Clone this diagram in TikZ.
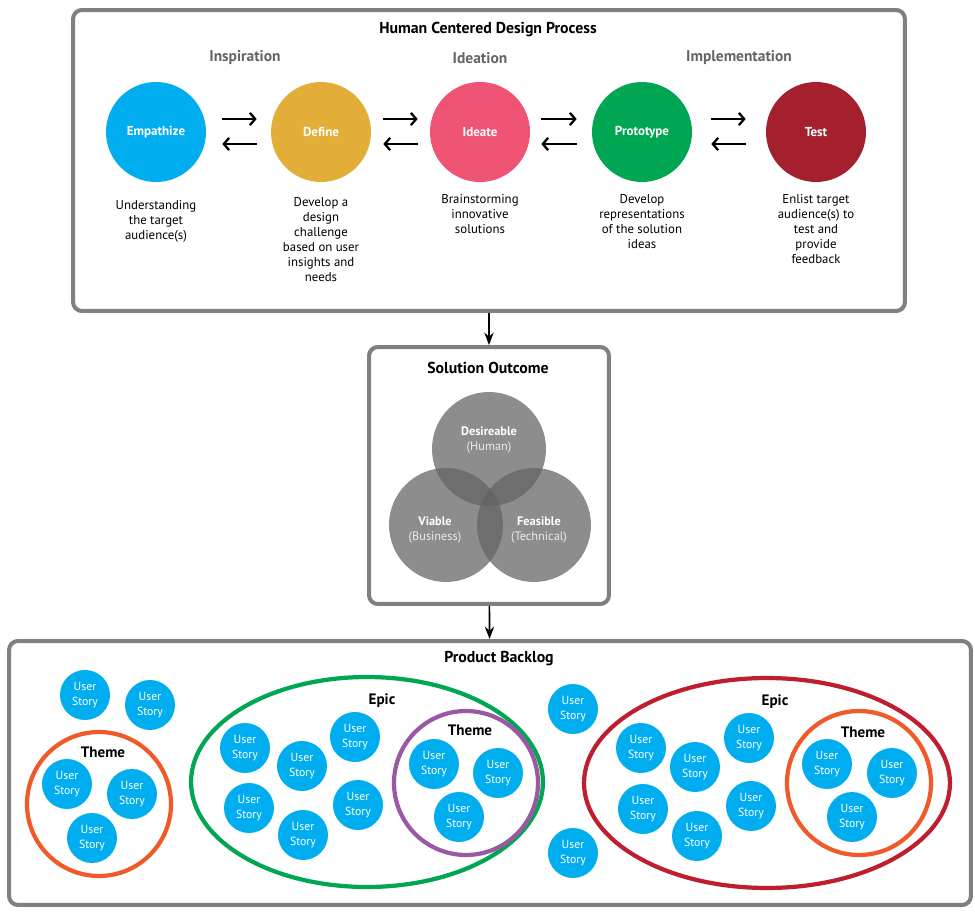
\documentclass[tikz,border=0pt]{standalone}
\usepackage{fontspec}
\setmainfont{PT Sans}
\usetikzlibrary{arrows.meta,shapes.geometric,calc}
\definecolor{empc}{HTML}{00AEEF}
\definecolor{defc}{HTML}{E2AE37}
\definecolor{idec}{HTML}{EF5475}
\definecolor{proc}{HTML}{00A651}
\definecolor{tesc}{HTML}{A5202E}
\definecolor{epicred}{HTML}{BE1E2D}
\definecolor{thorange}{HTML}{F05A28}
\definecolor{thpurple}{HTML}{9B59A5}
\definecolor{boxgray}{HTML}{808080}
\definecolor{stagegray}{HTML}{646466}

\begin{document}
\begin{tikzpicture}[x=0.02cm,y=-0.02cm,>=Stealth,
 panel/.style={draw=boxgray,line width=2.3pt,rounded corners=5pt,fill=white,inner sep=0pt},
 ttl/.style={font=\fontsize{9}{10}\selectfont\bfseries},
 stage/.style={font=\fontsize{8.8}{10}\selectfont\bfseries,text=stagegray},
 phase/.style={circle,minimum size=2cm,inner sep=0pt,text=white,font=\fontsize{7.4}{8}\selectfont\bfseries},
 desc/.style={align=center,anchor=north,inner sep=0pt,font=\fontsize{7.3}{8.5}\selectfont},
 pa/.style={line width=1.3pt,-{Straight Barb[length=3pt,width=7pt]}},
 flow/.style={line width=0.9pt,->},
 venn/.style={circle,minimum size=2.28cm,inner sep=0pt,fill=black!61,fill opacity=.73},
 vlab/.style={align=center,text=white,font=\fontsize{7}{8.4}\selectfont},
 story/.style={circle,fill=empc,minimum size=1cm,inner sep=0pt,align=center,text=white,font=\fontsize{6.7}{8.3}\selectfont},
 ring/.style={draw=#1,line width=2.4pt,circle,minimum size=2.88cm,inner sep=0pt},
 epic/.style={draw=#1,line width=2.4pt,ellipse,minimum height=4.2cm,inner sep=0pt},
 glab/.style={font=\fontsize{8.6}{10}\selectfont\bfseries}]
\useasboundingbox (0,0) rectangle (975,916);

% design process
\node[panel,minimum width=16.64cm,minimum height=6.02cm] (hcd) at (489,160.5) {};
\node[ttl] (hcdt) at (488,30) {Human Centered Design Process};
\node[stage] (insp) at (245,58) {Inspiration};
\node[stage] (idea) at (480,58) {Ideation};
\node[stage] (impl) at (739,58) {Implementation};

\node[phase,fill=empc] (emp) at (156,132) {Empathize};
\node[phase,fill=defc] (def) at (321,132) {Define};
\node[phase,fill=idec] (ide) at (480,132) {Ideate};
\node[phase,fill=proc] (pro) at (642,132) {Prototype};
\node[phase,fill=tesc] (tes) at (816,132) {Test};

\foreach \a/\b/\l/\r in {emp/def/.32/.28,def/ide/.24/.24,ide/pro/.22/.3,pro/tes/.38/.4}{
  \draw[pa,shorten <=\l cm,shorten >=\r cm] ([yshift=.26cm]\a.east) -- ([yshift=.26cm]\b.west);
  \draw[pa,shorten <=\r cm,shorten >=\l cm] ([yshift=-.24cm]\b.west) -- ([yshift=-.24cm]\a.east);
}

\node[desc] (empd) at (156,200) {Understanding\\the target\\audience(s)};
\node[desc] (defd) at (321,197) {Develop a\\design\\challenge\\based on user\\insights and\\needs};
\node[desc] (ided) at (480,194) {Brainstorming\\innovative\\solutions};
\node[desc] (prod) at (642,194) {Develop\\representations\\of the solution\\ideas};
\node[desc] (tesd) at (816,194) {Enlist target\\audience(s) to\\test and\\provide\\feedback};

% solution outcome
\node[panel,minimum width=4.8cm,minimum height=5.14cm] (sol) at (489,475.5) {};
\node[ttl] (solt) at (488,368) {Solution Outcome};
\node[venn] (des) at (489,449) {};
\node[venn] (via) at (446,525) {};
\node[venn] (fea) at (534,525) {};
\node[vlab] (desl) at (489,440) {\textbf{Desireable}\\\textcolor{white!92!black}{(Human)}};
\node[vlab] (vial) at (435,530) {\textbf{Viable}\\\textcolor{white!92!black}{(Business)}};
\node[vlab] (feal) at (539,530) {\textbf{Feasible}\\\textcolor{white!92!black}{(Technical)}};

% product backlog
\node[panel,minimum width=19.24cm,minimum height=5.28cm] (blog) at (490,773) {};
\node[ttl] (blogt) at (499,659) {Product Backlog};

\draw[flow] (hcd) -- (sol);
\draw[flow] (sol) -- (blog);

\node[ring=thorange] (thA) at (99,804) {};
\node[epic=proc,minimum width=7.04cm] (epA) at (367,782) {};
\node[ring=thpurple] (thB) at (466,783) {};
\node[epic=epicred,minimum width=7.32cm] (epB) at (767,783) {};
\node[ring=thorange] (thC) at (859,783) {};
\node[glab] (thAl) at (103,752) {Theme};
\node[glab] (epAl) at (382,701) {Epic};
\node[glab] (thBl) at (470,730) {Theme};
\node[glab] (epBl) at (775,702) {Epic};
\node[glab] (thCl) at (863,732) {Theme};

\foreach \p [count=\i] in {(85,695),(150,705),(67,784),(132,794),(92,838),
  (245,748),(302,766),(355,737),(249,808),(303,835),(358,805),
  (434,764),(498,773),(459,817),(573,709),(573,853),
  (641,748),(695,767),(749,738),(643,809),(697,836),(751,806),
  (827,764),(892,773),(852,817)}
  \node[story] (us\i) at \p {User\\Story};
\end{tikzpicture}
\end{document}
